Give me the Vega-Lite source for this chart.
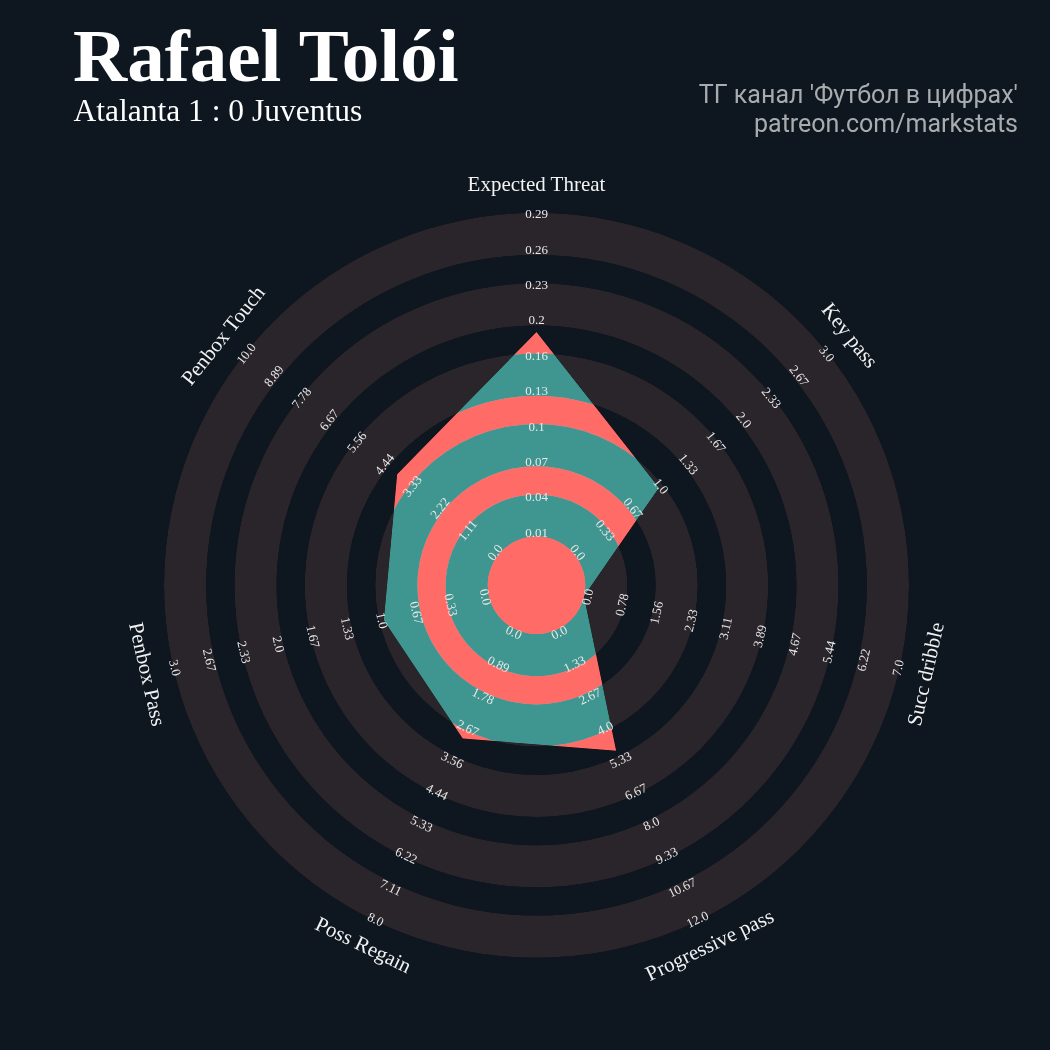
{
  "$schema": "https://vega.github.io/schema/vega-lite/v6.json",
  "width": 1050,
  "height": 1050,
  "padding": 0,
  "autosize": {"type": "none"},
  "background": "#0e1720",
  "config": {"view": {"stroke": null, "fill": "#0e1720"}},
  "datasets": {
    "params": [
      {"idx": 0, "param": "Expected Threat", "min": 0.01, "max": 0.29, "value": 0.187, "ticks": ["0.01","0.04","0.07","0.1","0.13","0.16","0.2","0.23","0.26","0.29"]},
      {"idx": 1, "param": "Key pass", "min": 0, "max": 3, "value": 1, "ticks": ["0.0","0.33","0.67","1.0","1.33","1.67","2.0","2.33","2.67","3.0"]},
      {"idx": 2, "param": "Succ dribble", "min": 0, "max": 7, "value": 0, "ticks": ["0.0","0.78","1.56","2.33","3.11","3.89","4.67","5.44","6.22","7.0"]},
      {"idx": 3, "param": "Progressive pass", "min": 0, "max": 12, "value": 5, "ticks": ["0.0","1.33","2.67","4.0","5.33","6.67","8.0","9.33","10.67","12.0"]},
      {"idx": 4, "param": "Poss Regain", "min": 0, "max": 8, "value": 3, "ticks": ["0.0","0.89","1.78","2.67","3.56","4.44","5.33","6.22","7.11","8.0"]},
      {"idx": 5, "param": "Penbox Pass", "min": 0, "max": 3, "value": 1, "ticks": ["0.0","0.33","0.67","1.0","1.33","1.67","2.0","2.33","2.67","3.0"]},
      {"idx": 6, "param": "Penbox Touch", "min": 0, "max": 10, "value": 4, "ticks": ["0.0","1.11","2.22","3.33","4.44","5.56","6.67","7.78","8.89","10.0"]}
    ],
    "rings": [
      {"kind": "center", "r0": 0, "r1": 48.7},
      {"kind": "ring", "r0": 48.7, "r1": 90.9},
      {"kind": "gap", "r0": 90.9, "r1": 119.1},
      {"kind": "ring", "r0": 119.1, "r1": 161.3},
      {"kind": "gap", "r0": 161.3, "r1": 189.5},
      {"kind": "ring", "r0": 189.5, "r1": 231.7},
      {"kind": "gap", "r0": 231.7, "r1": 259.9},
      {"kind": "ring", "r0": 259.9, "r1": 302.1},
      {"kind": "gap", "r0": 302.1, "r1": 330.3},
      {"kind": "ring", "r0": 330.3, "r1": 372.5}
    ]
  },
  "layer": [
    {
      "data": {"name": "rings"},
      "mark": {"type": "arc", "theta": 0, "theta2": 6.2832, "color": "#000000"},
      "encoding": {
        "x": {"datum": 0, "type": "quantitative", "scale": {"domain": [-536.5, 513.5], "nice": false, "zero": false}, "axis": null},
        "y": {"datum": 0, "type": "quantitative", "scale": {"domain": [-464.7, 585.3], "nice": false, "zero": false}, "axis": null},
        "radius": {"field": "r1", "type": "quantitative", "scale": {"type": "linear", "domain": [0, 525], "range": [0, 525], "zero": true, "nice": false}}
      }
    },
    {
      "data": {"name": "params"},
      "transform": [
        {"calculate": "48.7 + (datum.value - datum.min) / (datum.max - datum.min) * 323.8", "as": "r"},
        {"calculate": "PI / 2 - datum.idx * 2 * PI / 7", "as": "phi"},
        {"calculate": "datum.r * cos(datum.phi)", "as": "px"},
        {"calculate": "datum.r * sin(datum.phi)", "as": "py"}
      ],
      "mark": {"type": "line", "interpolate": "linear-closed", "filled": true, "color": "#ffffff"},
      "encoding": {
        "x": {"field": "px", "type": "quantitative", "axis": null},
        "y": {"field": "py", "type": "quantitative", "axis": null},
        "order": {"field": "idx", "type": "quantitative"}
      }
    },
    {
      "data": {"name": "rings"},
      "transform": [{"filter": "datum.kind !== 'ring'"}],
      "mark": {"type": "arc", "theta": 0, "theta2": 6.2832, "color": "#ff6c68", "blend": "multiply"},
      "encoding": {
        "x": {"datum": 0, "type": "quantitative", "axis": null},
        "y": {"datum": 0, "type": "quantitative", "axis": null},
        "radius": {"field": "r1", "type": "quantitative"},
        "radius2": {"field": "r0"}
      }
    },
    {
      "data": {"name": "rings"},
      "transform": [{"filter": "datum.kind === 'ring'"}],
      "mark": {"type": "arc", "theta": 0, "theta2": 6.2832, "color": "#3f958f", "blend": "multiply"},
      "encoding": {
        "x": {"datum": 0, "type": "quantitative", "axis": null},
        "y": {"datum": 0, "type": "quantitative", "axis": null},
        "radius": {"field": "r1", "type": "quantitative"},
        "radius2": {"field": "r0"}
      }
    },
    {
      "data": {"name": "rings"},
      "transform": [{"filter": "datum.kind === 'ring'"}],
      "mark": {"type": "arc", "theta": 0, "theta2": 6.2832, "color": "#29252b", "blend": "lighten"},
      "encoding": {
        "x": {"datum": 0, "type": "quantitative", "axis": null},
        "y": {"datum": 0, "type": "quantitative", "axis": null},
        "radius": {"field": "r1", "type": "quantitative"},
        "radius2": {"field": "r0"}
      }
    },
    {
      "data": {"values": [{}]},
      "mark": {"type": "rect", "color": "#0e1720", "blend": "lighten"},
      "encoding": {
        "x": {"datum": -536.5, "type": "quantitative", "axis": null},
        "x2": {"datum": 513.5},
        "y": {"datum": -464.7, "type": "quantitative", "axis": null},
        "y2": {"datum": 585.3}
      }
    },
    {
      "data": {"name": "rings"},
      "transform": [{"filter": "datum.kind === 'center'"}],
      "mark": {"type": "arc", "theta": 0, "theta2": 6.2832, "color": "#ff6c68"},
      "encoding": {
        "x": {"datum": 0, "type": "quantitative", "axis": null},
        "y": {"datum": 0, "type": "quantitative", "axis": null},
        "radius": {"field": "r1", "type": "quantitative"}
      }
    },
    {
      "data": {"name": "params"},
      "transform": [
        {"flatten": ["ticks"]},
        {"window": [{"op": "row_number", "as": "rn"}], "groupby": ["idx"]},
        {"calculate": "52.5 + 35.4 * (datum.rn - 1)", "as": "r"},
        {"calculate": "PI / 2 - datum.idx * 2 * PI / 7", "as": "phi"},
        {"calculate": "datum.r * cos(datum.phi)", "as": "px"},
        {"calculate": "datum.r * sin(datum.phi)", "as": "py"},
        {"calculate": "90 - datum.idx * 360 / 7 < -180 ? 90 - datum.idx * 360 / 7 + 360 : 90 - datum.idx * 360 / 7", "as": "pd"},
        {"calculate": "datum.pd > 0 ? 90 - datum.pd : -(datum.pd + 90)", "as": "rot"}
      ],
      "mark": {"type": "text", "font": "Liberation Serif", "fontSize": 13, "color": "#e8e8e8", "align": "center", "baseline": "middle"},
      "encoding": {
        "x": {"field": "px", "type": "quantitative", "axis": null},
        "y": {"field": "py", "type": "quantitative", "axis": null},
        "text": {"field": "ticks", "type": "nominal"},
        "angle": {"field": "rot", "type": "quantitative", "scale": null}
      }
    },
    {
      "data": {"name": "params"},
      "transform": [
        {"calculate": "PI / 2 - datum.idx * 2 * PI / 7", "as": "phi"},
        {"calculate": "400 * cos(datum.phi)", "as": "px"},
        {"calculate": "400 * sin(datum.phi)", "as": "py"},
        {"calculate": "90 - datum.idx * 360 / 7 < -180 ? 90 - datum.idx * 360 / 7 + 360 : 90 - datum.idx * 360 / 7", "as": "pd"},
        {"calculate": "datum.pd > 0 ? 90 - datum.pd : -(datum.pd + 90)", "as": "rot"}
      ],
      "mark": {"type": "text", "font": "Liberation Serif", "fontSize": 21, "color": "#f2f2f2", "align": "center", "baseline": "middle"},
      "encoding": {
        "x": {"field": "px", "type": "quantitative", "axis": null},
        "y": {"field": "py", "type": "quantitative", "axis": null},
        "text": {"field": "param", "type": "nominal"},
        "angle": {"field": "rot", "type": "quantitative", "scale": null}
      }
    },
    {
      "data": {"values": [{"t": "Rafael Tolói"}]},
      "mark": {"type": "text", "font": "Liberation Serif", "fontSize": 75, "fontWeight": "bold", "color": "#ffffff", "align": "left", "baseline": "alphabetic"},
      "encoding": {
        "x": {"datum": -463.5, "type": "quantitative", "axis": null},
        "y": {"datum": 504.3, "type": "quantitative", "axis": null},
        "text": {"field": "t", "type": "nominal"}
      }
    },
    {
      "data": {"values": [{"t": "Atalanta 1 : 0 Juventus"}]},
      "mark": {"type": "text", "font": "Liberation Serif", "fontSize": 31.5, "color": "#ffffff", "align": "left", "baseline": "alphabetic"},
      "encoding": {
        "x": {"datum": -463, "type": "quantitative", "axis": null},
        "y": {"datum": 464.3, "type": "quantitative", "axis": null},
        "text": {"field": "t", "type": "nominal"}
      }
    },
    {
      "data": {"values": [{"t": "ТГ канал 'Футбол в цифрах'", "line": 0}, {"t": "patreon.com/markstats", "line": 1}]},
      "transform": [{"calculate": "482 - datum.line * 28.4", "as": "ly"}],
      "mark": {"type": "text", "font": "Roboto", "fontSize": 25, "color": "#a9acaf", "align": "right", "baseline": "alphabetic"},
      "encoding": {
        "x": {"datum": 481.5, "type": "quantitative", "axis": null},
        "y": {"field": "ly", "type": "quantitative", "axis": null},
        "text": {"field": "t", "type": "nominal"}
      }
    }
  ]
}
